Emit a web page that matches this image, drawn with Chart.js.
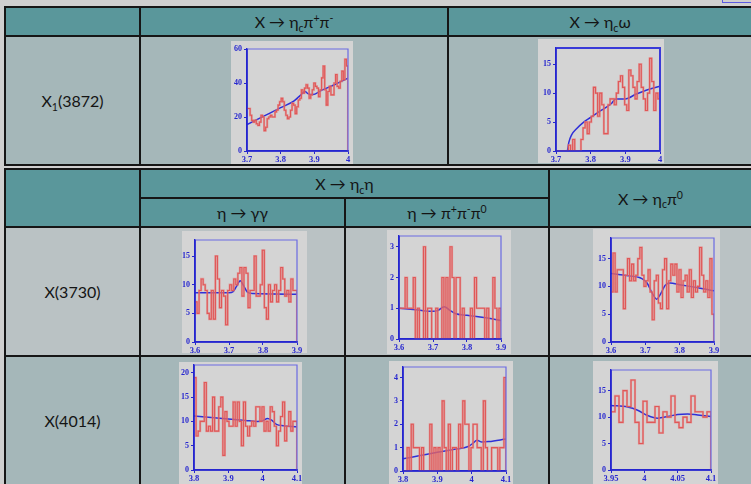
<!DOCTYPE html>
<html><head><meta charset="utf-8">
<script src="https://cdn.jsdelivr.net/npm/chart.js@4.4.1/dist/chart.umd.min.js"></script>
<style>
html,body{margin:0;padding:0;background:#cfcfcf;width:751px;height:484px;overflow:hidden;position:relative;font-family:Lato,"Open Sans",sans-serif;color:#141414}
.bg{position:absolute}
.t{background:#5a979b}
.d{background:#a5b7b9}
.l{background:#bac2c4}
.c{position:absolute;display:flex;align-items:center;justify-content:center;font-size:16px;white-space:nowrap}
.h{position:absolute;background:#161616}
sub{font-size:0.66em;vertical-align:baseline;position:relative;top:0.35em;line-height:0}
sup{font-size:0.66em;vertical-align:baseline;position:relative;top:-0.55em;line-height:0}
canvas{position:absolute;background:#d4d4d4}
</style>
</head><body>
<!-- table 1 backgrounds -->
<div class="bg t" style="left:5px;top:7px;width:746px;height:29px"></div>
<div class="bg d" style="left:5px;top:36px;width:746px;height:129px"></div>
<!-- table 2 backgrounds -->
<div class="bg t" style="left:5px;top:169px;width:746px;height:59px"></div>
<div class="bg l" style="left:5px;top:228px;width:746px;height:128px"></div>
<div class="bg d" style="left:5px;top:357px;width:746px;height:130px"></div>
<!-- lines table 1 -->
<div class="h" style="left:4px;top:6px;width:747px;height:2px"></div>
<div class="h" style="left:4px;top:35px;width:747px;height:2px"></div>
<div class="h" style="left:4px;top:164px;width:747px;height:2px"></div>
<div class="h" style="left:4px;top:6px;width:2px;height:160px"></div>
<div class="h" style="left:139px;top:6px;width:2px;height:160px"></div>
<div class="h" style="left:447px;top:6px;width:2px;height:160px"></div>
<!-- lines table 2 -->
<div class="h" style="left:4px;top:168px;width:747px;height:2px"></div>
<div class="h" style="left:139px;top:197px;width:410px;height:2px"></div>
<div class="h" style="left:4px;top:226px;width:747px;height:2px"></div>
<div class="h" style="left:4px;top:355px;width:747px;height:2px"></div>
<div class="h" style="left:4px;top:168px;width:2px;height:316px"></div>
<div class="h" style="left:139px;top:168px;width:2px;height:316px"></div>
<div class="h" style="left:344px;top:197px;width:2px;height:287px"></div>
<div class="h" style="left:548px;top:168px;width:2px;height:316px"></div>
<div style="position:absolute;left:722px;top:-10px;width:40px;height:11px;border:1px solid #5b5be0"></div>
<!-- texts -->
<div class="c" style="left:141px;top:8px;width:306px;height:27px"><span>X → η<sub>c</sub>π<sup>+</sup>π<sup>-</sup></span></div>
<div class="c" style="left:449px;top:8px;width:302px;height:27px"><span>X → η<sub>c</sub>ω</span></div>
<div class="c" style="left:6px;top:37px;width:133px;height:127px"><span>X<sub>1</sub>(3872)</span></div>
<div class="c" style="left:141px;top:170px;width:407px;height:27px"><span>X → η<sub>c</sub>η</span></div>
<div class="c" style="left:141px;top:199px;width:203px;height:27px"><span>η → γγ</span></div>
<div class="c" style="left:346px;top:199px;width:202px;height:27px"><span>η → π<sup>+</sup>π<sup>-</sup>π<sup>0</sup></span></div>
<div class="c" style="left:550px;top:170px;width:201px;height:56px"><span>X → η<sub>c</sub>π<sup>0</sup></span></div>
<div class="c" style="left:6px;top:228px;width:133px;height:127px"><span>X(3730)</span></div>
<div class="c" style="left:6px;top:357px;width:133px;height:127px"><span>X(4014)</span></div>
<script>
// ---------- data ----------
const p1Values = [25,25,21,18,17,18,16,15,17,21,20,12,14,19,20,21,20,20,23,24,27,29,31,29,24,21,19,20,24,28,27,22,26,30,31,36,34,37,39,37,31,33,36,40,38,37,32,36,43,50,36,27,35,38,33,33,40,45,38,37,41,47,42,54,50];
const p1Fit = [[3.7,15.5],[3.75,20.5],[3.8,25.5],[3.84,29.5],[3.86,33],[3.872,35],[3.882,33.6],[3.895,33.2],[3.92,35.5],[3.96,39],[4.0,42.8]];
const p2Values = [0,0,0,0,0,0,1,0,2,0,0,0,2,4,5,3,5,6,11,10,6,10,8,3,3,8,9,9,8,10,12,13,11,8,7,14,13,11,9,12,15,11,9,7,10,16,12,7,10,9];
const p2Fit = [[3.733,0],[3.737,1.5],[3.745,2.8],[3.76,3.9],[3.78,5],[3.8,5.8],[3.83,7],[3.86,8.2],[3.872,9],[3.9,9],[3.93,9.8],[3.96,10.5],[4.0,11.2]];
const p3Values = [7,5,9,11,10,9,5,4,9,4,15,11,6,9,8,3,9,10,9,11,10,12,13,8,13,12,6,9,9,15,8,8,10,16,6,4,10,7,9,10,7,9,13,11,8,9,7,11,9,9];
const p3Fit = [[3.6,8.6],[3.7,8.6],[3.712,8.8],[3.722,9.7],[3.733,10.7],[3.744,9.7],[3.754,8.7],[3.77,8.45],[3.9,8.35]];
const p4Values = [1,1,1,2,1,1,1,2,0,1,0,0,3,0,1,1,0,0,1,0,0,2,0,2,0,3,2,0,2,2,0,1,0,0,0,1,0,2,1,1,1,1,0,1,0,0,2,1,0,1];
const p4Fit = [[3.6,1.0],[3.65,0.95],[3.7,0.9],[3.715,0.93],[3.733,1.05],[3.75,0.93],[3.765,0.83],[3.8,0.77],[3.85,0.7],[3.9,0.6]];
const p5Values = [9,16,9,13,13,13,6,12,15,11,14,11,12,15,17,12,10,11,13,9,4,11,12,7,6,13,15,6,11,14,12,14,9,13,8,11,12,9,13,8,11,9,10,17,12,9,11,8,15,5];
const p5Fit = [[3.6,12.3],[3.65,11.9],[3.69,11.4],[3.705,10.6],[3.72,8.8],[3.733,7.7],[3.745,8.7],[3.758,10.2],[3.772,10.6],[3.8,10.3],[3.85,9.8],[3.9,9.2]];
const p6Values = [19,7,8,10,10,18,8,9,8,15,8,8,13,15,3,12,10,9,9,14,9,14,10,5,14,9,7,9,10,9,13,13,10,13,8,10,8,13,12,9,5,8,11,14,6,9,12,8,10,10];
const p6Fit = [[3.8,11.1],[3.85,10.8],[3.9,10.5],[3.95,10.2],[3.985,10],[4.0,10.1],[4.014,10.6],[4.025,10.3],[4.04,9.4],[4.06,9.1],[4.1,8.9]];
const p7Values = [0,0,1,0,2,1,1,1,0,1,0,0,0,2,0,1,0,1,0,3,1,0,2,0,1,1,0,2,1,3,2,2,0,1,2,2,1,1,0,3,1,0,0,1,1,1,0,1,1,4];
const p7Fit = [[3.8,0.52],[3.85,0.66],[3.9,0.8],[3.95,0.93],[3.99,1.05],[4.005,1.2],[4.015,1.32],[4.03,1.24],[4.05,1.26],[4.1,1.37]];
const p8Values = [11,14,9,15,12,17,9,5,13,9,9,12,7,11,10,14,9,8,10,9,14,11,11,10,11];
const p8Fit = [[3.95,12.2],[3.975,11.9],[3.99,11.3],[4.005,10.3],[4.02,9.8],[4.035,10.1],[4.05,10.5],[4.065,10.6],[4.08,10.4],[4.1,10.1]];

const xTicksA = [3.7,3.8,3.9,4];
const xTicksB = [3.6,3.7,3.8,3.9];
const xTicksC = [3.8,3.9,4,4.1];
const xTicksD = [3.95,4,4.05,4.1];
const yTicks60 = [0,20,40,60];
const yTicks15 = [0,5,10,15];
const yTicks3 = [0,1,2,3];
const yTicks20 = [0,5,10,15,20];
const yTicks4 = [0,1,2,3,4];

// ---------- drawing ----------
function hist(values, x0, x1){
  const w=(x1-x0)/values.length;
  const pts=values.map((v,i)=>({x:x0+i*w,y:v}));
  pts.push({x:x1,y:values[values.length-1]});
  pts.push({x:x1,y:0});
  return pts;
}
const AX='#2626cf';
const framePlugin={id:'frame',afterDatasetsDraw(ch,args,opts){
  const a=ch.chartArea,c=ch.ctx;c.save();
  c.strokeStyle=opts.color;c.lineWidth=opts.width;
  c.beginPath();c.moveTo(a.left,a.top);c.lineTo(a.right,a.top);c.lineTo(a.right,a.bottom);c.stroke();
  c.strokeStyle=AX;c.lineWidth=1.5;
  c.beginPath();c.moveTo(a.left,a.top);c.lineTo(a.left,a.bottom);c.lineTo(a.right,a.bottom);c.stroke();
  c.restore();}};
function plot(g,o){
  const cv=document.createElement('canvas');
  cv.width=g.pr-g.pl;cv.height=g.pb-g.pt;
  cv.style.left=g.pl+'px';cv.style.top=g.pt+'px';
  document.body.appendChild(cv);
  const h=hist(o.values,o.xt[0],o.xt[o.xt.length-1]);
  const fx={family:'"Liberation Serif","DejaVu Serif",serif',weight:'bold',size:8.5};
  const fy={family:'"Liberation Serif","DejaVu Serif",serif',weight:'bold',size:8};
  new Chart(cv,{type:'line',data:{datasets:[
    {data:h,borderColor:'rgba(232,125,125,0.6)',borderWidth:2.2,stepped:true,pointRadius:0,fill:false},
    {data:h,borderColor:'#d41f1f',borderWidth:1.1,stepped:true,pointRadius:0,fill:false},
    {data:o.fit.map(p=>({x:p[0],y:p[1]})),borderColor:'#2f2fd8',borderWidth:1.5,cubicInterpolationMode:'monotone',pointRadius:0,fill:false}
  ]},options:{responsive:false,animation:false,events:[],
    layout:{padding:{top:g.ft-g.pt,right:g.pr-g.fr,left:0,bottom:0}},
    plugins:{legend:{display:false},tooltip:{enabled:false},frame:{color:o.fc||'rgba(95,95,228,0.9)',width:o.fw||1.2}},
    scales:{
      x:{type:'linear',min:o.xt[0],max:o.xt[o.xt.length-1],
        afterBuildTicks:s=>{s.ticks=o.xt.map(v=>({value:v}));},
        afterFit:s=>{s.height=g.pb-g.fb;s.paddingLeft=0;s.paddingRight=0;},
        ticks:{font:fx,color:AX,padding:1,maxRotation:0,autoSkip:false,callback:v=>String(+(+v).toFixed(2))},
        grid:{drawOnChartArea:false,tickLength:3,color:AX},border:{color:AX,width:1.5}},
      y:{type:'linear',min:0,max:o.ymax,
        afterBuildTicks:s=>{s.ticks=o.yt.map(v=>({value:v}));},
        afterFit:s=>{s.width=g.fl-g.pl;s.paddingTop=0;s.paddingBottom=0;},
        ticks:{font:fy,color:AX,padding:2,autoSkip:false,callback:v=>String(v)},
        grid:{drawOnChartArea:false,tickLength:3,color:AX},border:{color:AX,width:1.5}}
    }},plugins:[framePlugin]});
}
plot({pl:231,pt:41,pr:353,pb:164,fl:247,ft:49,fr:348,fb:151},{values:p1Values,fit:p1Fit,xt:xTicksA,yt:yTicks60,ymax:60});
plot({pl:538,pt:39,pr:664,pb:163,fl:556,ft:48,fr:660,fb:151},{values:p2Values,fit:p2Fit,xt:xTicksA,yt:yTicks15,ymax:17.8,fc:'#3a3ad8',fw:2});
plot({pl:182,pt:231,pr:307,pb:353,fl:195,ft:240,fr:297,fb:342},{values:p3Values,fit:p3Fit,xt:xTicksB,yt:yTicks15,ymax:17.8});
plot({pl:387,pt:230,pr:511,pb:354,fl:399,ft:236,fr:501,fb:339},{values:p4Values,fit:p4Fit,xt:xTicksB,yt:yTicks3,ymax:3.35});
plot({pl:593,pt:229,pr:720,pb:355,fl:611,ft:238,fr:714,fb:342},{values:p5Values,fit:p5Fit,xt:xTicksB,yt:yTicks15,ymax:18.7});
plot({pl:179,pt:362,pr:302,pb:484,fl:194,ft:365,fr:297,fb:470},{values:p6Values,fit:p6Fit,xt:xTicksC,yt:yTicks20,ymax:21.6});
plot({pl:389,pt:361,pr:513,pb:484,fl:403,ft:367,fr:506,fb:471},{values:p7Values,fit:p7Fit,xt:xTicksC,yt:yTicks4,ymax:4.45});
plot({pl:593,pt:361,pr:718,pb:484,fl:611,ft:370,fr:711,fb:470},{values:p8Values,fit:p8Fit,xt:xTicksD,yt:yTicks15,ymax:18.9});
</script>
</body></html>
